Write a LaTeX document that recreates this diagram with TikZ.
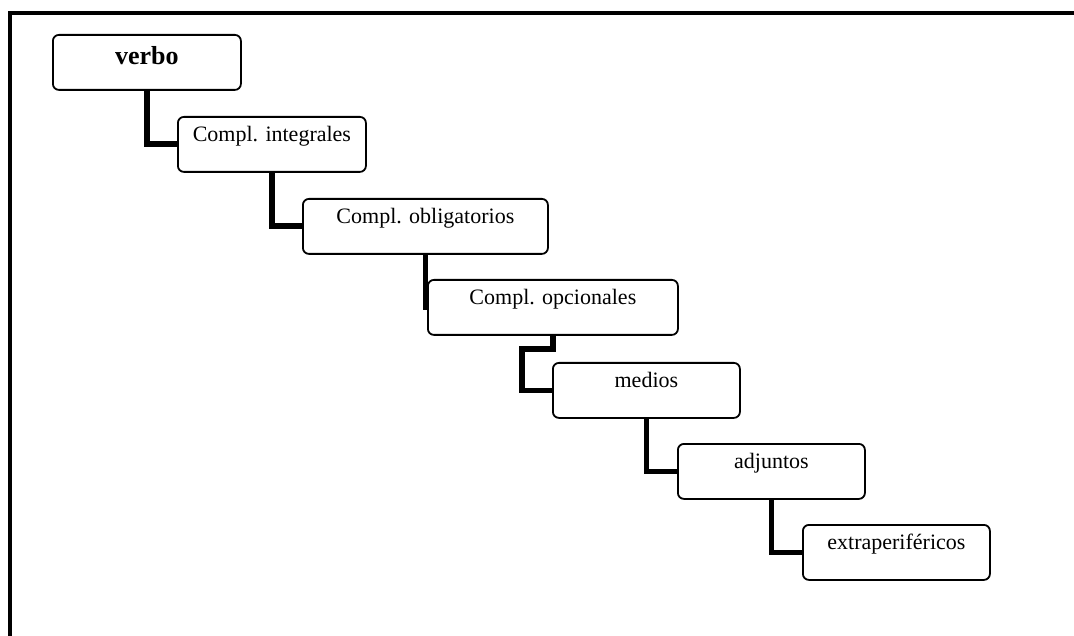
\documentclass[tikz,border=0pt]{standalone}
\usepackage{fontspec}
\setmainfont{Liberation Serif}
\usetikzlibrary{calc}
\tikzset{
  box/.style={draw, fill=white, line width=1.8pt, rounded corners=6pt,
    inner sep=0pt, minimum height=55pt, anchor=north west,
    text height=25pt, text depth=30pt, font=\fontsize{22}{25}\selectfont},
  headbox/.style={box, text height=30pt, text depth=25pt,
    font=\fontsize{26}{30}\selectfont\bfseries},
  link/.style={line width=5.8pt, line join=miter, line cap=butt},
  frameline/.style={line width=4pt, line join=miter}
}
\begin{document}
\begin{tikzpicture}[x=1pt, y=-1pt]
  \useasboundingbox (0,0) rectangle (1074,636);
  % outer frame: top and left rules only
  \draw[frameline] (10,636) -- (10,13) -- (1074,13);

  % hierarchy of complements
  \node[headbox, minimum width=188pt] (verbo) at (52,34) {verbo};
  \node[box, minimum width=188pt] (integ) at (177,116) {Compl. integrales};
  \node[box, minimum width=245pt] (oblig) at (302,198) {Compl. obligatorios};
  \node[box, minimum width=250pt] (opc) at (427,279) {Compl. opcionales};
  \node[box, minimum width=187pt] (med) at (552,362) {medios};
  \node[box, minimum width=187pt] (adj) at (677,443) {adjuntos};
  \node[box, minimum width=187pt] (ext) at (802,524) {extraperiféricos};

  % elbow connectors
  \draw[link] (verbo.south) |- (integ.west);
  \draw[link] (integ.south) |- (oblig.west);
  \draw[link] (oblig.south) |- (opc.west);
  \draw[link] (opc.south) -- ++(0,13) coordinate (bend)
    -| ($(med.west)+(-30,0)$) -- (med.west);
  \draw[link] (med.south) |- (adj.west);
  \draw[link] (adj.south) |- (ext.west);
\end{tikzpicture}
\end{document}
